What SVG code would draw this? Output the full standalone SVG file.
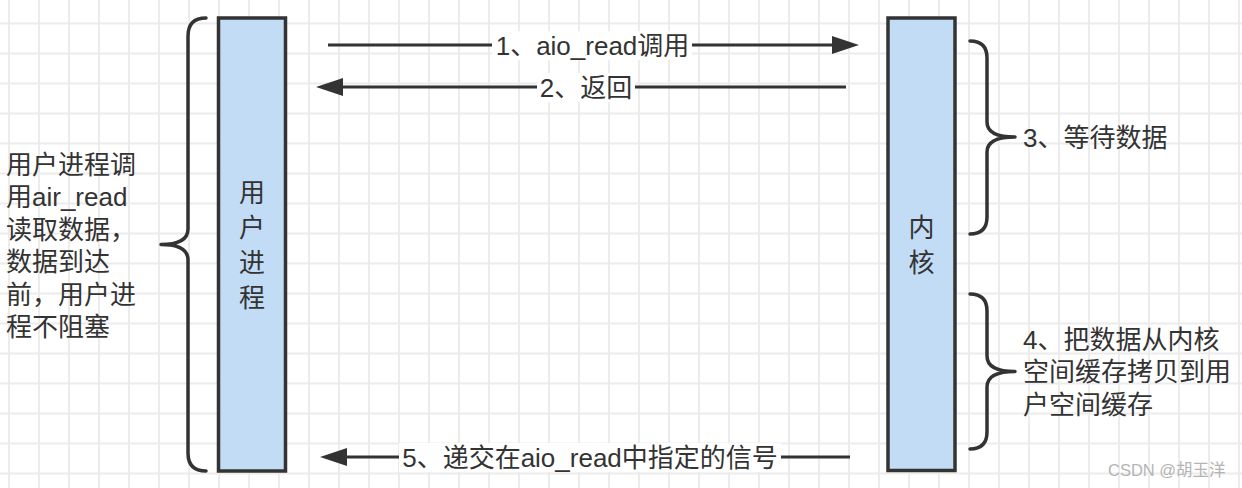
<svg xmlns="http://www.w3.org/2000/svg" width="1242" height="488" viewBox="0 0 1242 488">
  <defs>
    <pattern id="grid" x="0" y="0" width="30" height="30" patternUnits="userSpaceOnUse">
      <rect x="8" y="0" width="2" height="30" fill="#ececec"/>
      <rect x="0" y="22.5" width="30" height="2" fill="#ececec"/>
    </pattern>
    <marker id="arrow" viewBox="0 0 27 18" refX="0" refY="9" markerWidth="27" markerHeight="18" markerUnits="userSpaceOnUse" orient="auto">
      <path d="M0,0 L27,9 L0,18 Z" fill="#333333"/>
    </marker>
    <style>
      text { font-family: "Liberation Sans", "Noto Sans CJK SC", sans-serif; font-size: 26px; fill: #333333; }
      .box { fill: #c2dcf5; stroke: #333333; stroke-width: 3.5; }
      .brace { fill: none; stroke: #333333; stroke-width: 3.5; stroke-linecap: round; stroke-linejoin: round; }
      .conn { fill: none; stroke: #333333; stroke-width: 3; }
      .lblbg { fill: #ffffff; }
      .mid { text-anchor: middle; }
      .wm { font-size: 16.5px; fill: #b4b4b4; }
    </style>
  </defs>

  <rect x="0" y="0" width="1242" height="488" fill="#ffffff"/>
  <rect x="0" y="0" width="1242" height="488" fill="url(#grid)"/>

  <g id="user-process">
    <rect class="box" x="218.5" y="18" width="67" height="453"/>
    <text class="mid" x="252" y="202">用</text>
    <text class="mid" x="252" y="237">户</text>
    <text class="mid" x="252" y="272">进</text>
    <text class="mid" x="252" y="307">程</text>
  </g>

  <g id="kernel">
    <rect class="box" x="888" y="18" width="67" height="452.5"/>
    <text class="mid" x="921.5" y="237">内</text>
    <text class="mid" x="921.5" y="272">核</text>
  </g>

  <g id="left-note">
    <path class="brace" d="M 206 18 Q 188 18 188 36 L 188 229 Q 188 244.5 161 244.5 Q 188 244.5 188 260 L 188 453 Q 188 471 206 471"/>
    <text x="6" y="173.5">用户进程调</text>
    <text x="6" y="206">用air_read</text>
    <text x="6" y="238.5">读取数据，</text>
    <text x="6" y="271">数据到达</text>
    <text x="6" y="303.5">前，用户进</text>
    <text x="6" y="336">程不阻塞</text>
  </g>

  <g id="wait-note">
    <path class="brace" d="M 970 41 Q 987 41 987 58 L 987 122 Q 987 137 1015 137 Q 987 137 987 152 L 987 217 Q 987 234 970 234"/>
    <text x="1023" y="146.5">3、等待数据</text>
  </g>

  <g id="copy-note">
    <path class="brace" d="M 970 294 Q 987 294 987 311 L 987 356 Q 987 371.5 1015 371.5 Q 987 371.5 987 387 L 987 432 Q 987 449 970 449"/>
    <text x="1023" y="348.5">4、把数据从内核</text>
    <text x="1023" y="381">空间缓存拷贝到用</text>
    <text x="1023" y="413.5">户空间缓存</text>
  </g>

  <g id="connectors">
    <line class="conn" x1="328" y1="45" x2="832" y2="45" marker-end="url(#arrow)"/>
    <rect class="lblbg" x="492" y="31" width="200" height="29"/>
    <text class="mid" x="592.5" y="54.5">1、aio_read调用</text>

    <line class="conn" x1="846" y1="87" x2="343" y2="87" marker-end="url(#arrow)"/>
    <rect class="lblbg" x="537" y="73" width="98" height="29"/>
    <text class="mid" x="586" y="96.5">2、返回</text>

    <line class="conn" x1="850" y1="457" x2="347" y2="457" marker-end="url(#arrow)"/>
    <rect class="lblbg" x="399" y="443" width="382" height="29"/>
    <text class="mid" x="590" y="466.5">5、递交在aio_read中指定的信号</text>
  </g>

  <text class="wm" x="1108" y="476">CSDN @胡玉洋</text>
</svg>
